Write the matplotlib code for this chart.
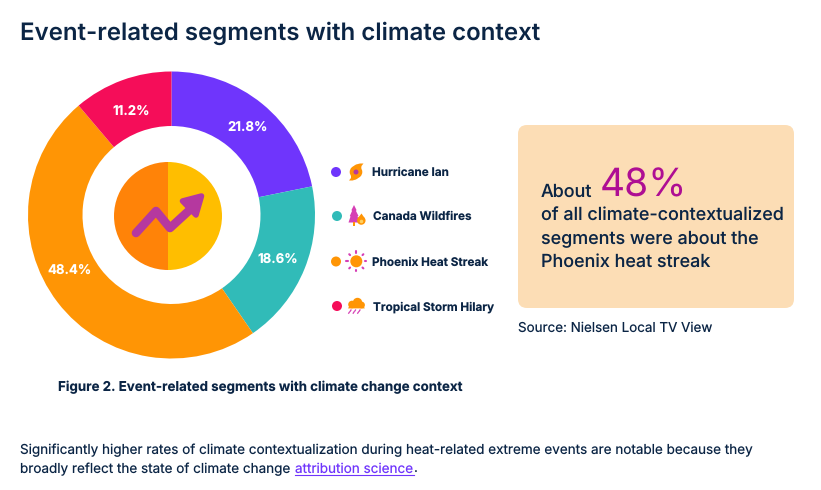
import matplotlib
matplotlib.use("Agg")
import matplotlib.pyplot as plt
import numpy as np
from matplotlib.patches import Circle, Wedge, FancyBboxPatch, Polygon, Ellipse

plt.rcParams['font.family'] = ['Inter', 'DejaVu Sans']
plt.rcParams['text.hinting'] = 'no_hinting'
plt.rcParams['text.hinting_factor'] = 1

categories = ["Hurricane Ian", "Canada Wildfires", "Phoenix Heat Streak", "Tropical Storm Hilary"]
shares = [21.8, 18.6, 48.4, 11.2]
colors = ["#6F35FC", "#31BBB8", "#FF9505", "#F50D59"]
title = "Event-related segments with climate context"
caption = "Figure 2. Event-related segments with climate change context"
NAVY = "#0B2545"
MAG = "#B5389F"
PINK = "#D63FB5"
ORANGE = "#FF9505"

W, H = 821, 490
fig = plt.figure(figsize=(W / 100, H / 100), dpi=100, facecolor="white")

# Canvas in pixel coordinates, on top of the donut
ax = fig.add_axes([0, 0, 1, 1])
ax.set_xlim(0, W)
ax.set_ylim(H, 0)
ax.axis("off")
ax.set_zorder(2)

# Donut
cx, cy, R, hole = 171.5, 215, 143.5, 89
pie_ax = fig.add_axes([(cx - R) / W, 1 - (cy + R) / H, 2 * R / W, 2 * R / H])
pie_ax.pie(shares, colors=colors, startangle=90, counterclock=False, radius=1,
           wedgeprops=dict(width=1 - hole / R, linewidth=0))
pie_ax.set_xlim(-1, 1)
pie_ax.set_ylim(-1, 1)
label_xy = [(248, 127), (278, 259), (70, 270), (131.5, 111)]
for v, (lx, ly) in zip(shares, label_xy):
    ax.text(lx, ly, f"{v}%", color="white", fontsize=9.5, fontweight="bold", ha="center", va="center")

# Centre emblem
ax.add_patch(Wedge((168, 216), 54, 90, 270, fc="#FF8308", lw=0))
ax.add_patch(Wedge((168, 216), 54, 270, 90, fc="#FFBE00", lw=0))
ax.plot([136, 156, 170, 194], [233, 211, 228, 206], color=MAG, lw=6.2,
        solid_capstyle="round", solid_joinstyle="round")
ax.add_patch(Polygon([(182.5, 201), (201.5, 196), (196, 215)], closed=True, fc=MAG, ec=MAG,
                     lw=4, joinstyle="round"))

# Legend
rows = [(172, 336, 371.5), (216, 337, 373), (261.5, 336, 372), (306, 337, 373)]
for (y, dx, tx), c, name in zip(rows, colors, categories):
    ax.add_patch(Circle((dx, y), 5, fc=c, lw=0))
    ax.text(tx, y + 0.8, name, fontsize=8.45, fontweight="bold", color=NAVY, ha="left", va="center")

# Hurricane icon
ax.add_patch(Circle((356, 172), 6.3, fc=ORANGE, lw=0))
ax.add_patch(Polygon([(353, 166.5), (356, 164.5), (360, 163.5), (363.5, 163.5), (361.5, 166), (361, 170)], fc=ORANGE, lw=0))
ax.add_patch(Polygon([(359, 177.5), (356, 179.5), (352.5, 180.5), (349, 180.5), (351, 178), (351, 174)], fc=ORANGE, lw=0))
ax.add_patch(Circle((356, 172), 2.5, fc=MAG, lw=0))
# Wildfire icon
ax.add_patch(Polygon([(354, 205), (356.5, 210), (356, 211), (358.5, 216), (357.5, 216.5), (360, 222.5),
                      (348.5, 222.5), (350.5, 216.5), (349.8, 216), (352, 211), (351.5, 210)], fc=PINK, lw=0))
ax.add_patch(Polygon([(353.3, 222), (355.3, 222), (355.3, 226), (353.3, 226)], fc=ORANGE, lw=0))
ax.add_patch(Ellipse((361.3, 220.5), 8.5, 8.5, fc=ORANGE, lw=0))
ax.add_patch(Polygon([(361.5, 213.5), (364.5, 218), (358, 218)], fc=ORANGE, lw=0))
ax.add_patch(Circle((361.5, 221.5), 1.8, fc="#FFD060", lw=0))
# Sun icon
ax.add_patch(Circle((356.3, 261.3), 6, fc=ORANGE, lw=0))
for ang in np.arange(0, 360, 45):
    t = np.deg2rad(ang)
    ax.plot([356.3 + 8.8 * np.cos(t), 356.3 + 10 * np.cos(t)],
            [261.3 + 8.8 * np.sin(t), 261.3 + 10 * np.sin(t)],
            color=PINK, lw=1.5, solid_capstyle="round")
# Storm icon
ax.add_patch(Circle((357.5, 302.5), 4.7, fc=ORANGE, lw=0))
ax.add_patch(Circle((352, 304.5), 3.8, fc=ORANGE, lw=0))
ax.add_patch(Circle((361.5, 305), 3.4, fc=ORANGE, lw=0))
ax.add_patch(Polygon([(350, 305), (363, 305), (364.8, 308.4), (348, 308.4)], fc=ORANGE, lw=0))
for x0, y0 in [(351, 310), (355.5, 310), (360, 310), (349.5, 312), (354, 312), (358.5, 312)]:
    ax.plot([x0, x0 - 0.8], [y0, y0 + 1.2], color=PINK, lw=0.9)

# Call-out box
ax.add_patch(FancyBboxPatch((526, 133), 260, 167, boxstyle="round,pad=8,rounding_size=9",
                            fc="#FCDDB5", ec="none"))
ax.text(541, 192, "About", fontsize=12.9, color=NAVY, ha="left", va="center", fontweight="medium")
ax.text(600, 186, "48%", fontsize=28, color="#AE0E93", ha="left", va="center")
for y, line in zip([216, 239, 262], ["of all climate-contextualized", "segments were about the", "Phoenix heat streak"]):
    ax.text(541, y, line, fontsize=12.9, color=NAVY, ha="left", va="center", fontweight="medium")
ax.text(518.5, 328.5, "Source: Nielsen Local TV View", fontsize=9.65, color=NAVY, ha="left", va="center")

# Titles and footer
ax.text(20, 33.5, title, fontsize=17.3, fontweight="semibold", color=NAVY, ha="left", va="center")
ax.text(58, 387, caption, fontsize=9.6, fontweight="bold", color=NAVY, ha="left", va="center")
ax.text(20, 450, "Significantly higher rates of climate contextualization during heat-related extreme events are notable because they",
        fontsize=9.72, color=NAVY, ha="left", va="center")
ax.text(20, 469, "broadly reflect the state of climate change ", fontsize=9.72, color=NAVY, ha="left", va="center")
ax.text(295, 469, "attribution science", fontsize=9.72, color="#6F35FC", ha="left", va="center")
ax.plot([295, 413.5], [475, 475], color="#6F35FC", lw=0.8)
ax.text(413.5, 469, ".", fontsize=9.72, color=NAVY, ha="left", va="center")

fig.savefig("out.png", dpi=100)
